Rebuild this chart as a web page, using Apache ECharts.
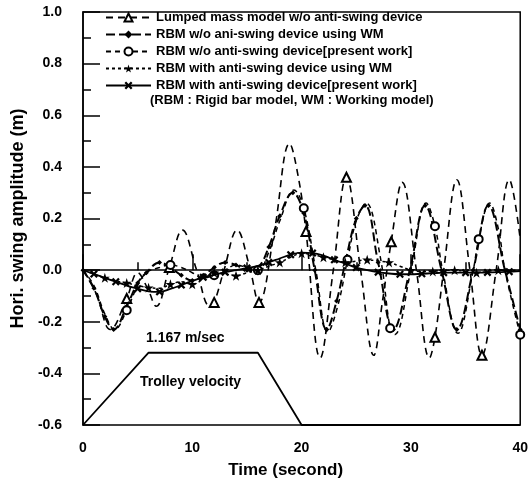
<!DOCTYPE html>
<html>
<head>
<meta charset="utf-8">
<script src="https://cdn.jsdelivr.net/npm/echarts@6/dist/echarts.min.js"></script>
<style>
html, body { margin: 0; padding: 0; background: #fff; }
#chart { width: 531px; height: 484px; }
</style>
</head>
<body>
<div id="chart"></div>
<script>
// tick labels
var xTicks = [0, 10, 20, 30, 40];

// Lumped mass model w/o anti-swing device
var lumpedT = [0, 1.2, 2.5, 4.0, 5.0, 5.9, 6.7, 7.9, 9.1, 10.4, 11.6, 12.0, 12.9, 14.1, 15.2, 16.1, 17.5, 18.9, 19.7, 20.4,
    21.7, 22.9, 24.1, 25.4, 26.6, 27.4, 28.2, 29.2, 30.5, 31.7, 32.2, 33.0, 34.2, 35.4, 36.5, 37.8, 39.0, 40];
var lumpedY = [0, -0.09, -0.23, -0.11, -0.01, -0.07, -0.14, 0.01, 0.155, 0.0, -0.14, -0.125, 0.0, 0.155, 0.02, -0.125, 0.15, 0.49, 0.36, 0.15,
    -0.34, 0.0, 0.36, 0.0, -0.33, -0.12, 0.11, 0.34, 0.0, -0.34, -0.26, 0.0, 0.35, 0.0, -0.33, 0.0, 0.35, 0.12];
var lumpedMarks = [4.0, 7.9, 12.0, 16.1, 20.4, 24.1, 28.2, 32.2, 36.5];

// RBM w/o anti-swing device using WM
var wmT = [0, 1, 2, 2.8, 4, 5, 5.8, 7, 8, 9, 10, 11, 12, 13, 14, 15, 16, 17, 18, 19.2, 20.2, 21.2, 22.3, 23.2, 24.1, 25.0, 25.8,
    27.0, 28.4, 29.9, 31.3, 32.8, 34.2, 35.7, 37.1, 38.6, 40];
var wmY = [0, -0.07, -0.18, -0.23, -0.14, -0.05, -0.01, 0.03, 0.01, -0.02, -0.04, -0.02, 0.01, 0.03, 0.02, 0.0, 0.01, 0.09, 0.21, 0.30, 0.22, 0.0, -0.23, -0.12, 0.05, 0.2, 0.25,
    0.03, -0.23, 0.0, 0.25, 0.0, -0.23, 0.0, 0.25, 0.0, -0.23];

// RBM w/o anti-swing device [present work]
var prT = [0, 1, 2, 2.9, 4, 5, 5.8, 7, 8, 9, 10, 11, 12, 13, 14, 15, 16, 17, 18, 19.3, 20.2, 21.3, 22.4, 23.3, 24.2, 25.0, 25.9,
    27.2, 28.1, 28.5, 30.0, 31.4, 32.2, 32.9, 34.3, 35.7, 36.2, 37.2, 38.0, 38.6, 40];
var prY = [0, -0.06, -0.17, -0.23, -0.155, -0.06, -0.01, 0.01, 0.02, 0.01, -0.01, -0.03, -0.02, 0.0, 0.02, 0.01, 0.0, 0.07, 0.19, 0.31, 0.24, 0.0, -0.24, -0.14, 0.04, 0.19, 0.26,
    0.05, -0.225, -0.25, 0.0, 0.26, 0.17, 0.0, -0.245, 0.0, 0.12, 0.26, 0.16, 0.0, -0.25];
var prMarks = [4, 8, 12, 16, 20.2, 24.2, 28.1, 32.2, 36.2, 40];

// anti-swing series, one value per second
var secT = [0, 1, 2, 3, 4, 5, 6, 7, 8, 9, 10, 11, 12, 13, 14, 15, 16, 17, 18, 19, 20,
    21, 22, 23, 24, 25, 26, 27, 28, 29, 30, 31, 32, 33, 34, 35, 36, 37, 38, 39, 40];
var wmAntiY = [0, -0.015, -0.03, -0.042, -0.05, -0.06, -0.068, -0.07, -0.055, -0.045, -0.055, -0.035, -0.01, -0.015, -0.022, -0.01, 0.0, 0.015, 0.03, 0.05, 0.065,
    0.06, 0.05, 0.04, 0.03, 0.035, 0.04, 0.035, 0.03, 0.015, 0.0, -0.005, -0.005, 0.0, 0.0, -0.005, -0.01, -0.005, 0.0, 0.0, 0.0];
var prAntiY = [0, -0.015, -0.03, -0.045, -0.06, -0.072, -0.082, -0.084, -0.073, -0.058, -0.042, -0.028, -0.018, -0.008, 0.0, 0.008, 0.016, 0.03, 0.045, 0.06, 0.068,
    0.066, 0.056, 0.04, 0.025, 0.01, 0.0, -0.008, -0.013, -0.016, -0.016, -0.014, -0.012, -0.01, -0.01, -0.01, -0.01, -0.009, -0.008, -0.006, -0.004];
var wmAntiMarks = [2, 4, 6, 8, 10, 12, 14, 16, 18, 20, 22, 24, 26, 28, 30, 32, 34, 36, 38];
var prAntiMarks = [1, 3, 5, 7, 9, 11, 13, 15, 17, 19, 21, 23, 25, 27, 29, 31, 33, 35, 37, 39];

// trolley velocity profile (drawn on the -0.6 baseline)
var trolleyT = [0, 6, 16, 20, 40];
var trolleyY = [-0.6, -0.32, -0.32, -0.6, -0.6];

var names = [
    'Lumped mass model w/o anti-swing device',
    'RBM w/o ani-swing device using WM',
    'RBM w/o anti-swing device[present work]',
    'RBM with anti-swing device using WM',
    'RBM with anti-swing device[present work]'
];

var FONT = '"Liberation Sans", Arial, sans-serif';
var STAR = 'path://M5,0 L6.2,3.6 L10,3.6 L6.9,5.9 L8.1,9.5 L5,7.3 L1.9,9.5 L3.1,5.9 L0,3.6 L3.8,3.6 Z';
var CROSS = 'path://M2,0 L5,3 L8,0 L10,2 L7,5 L10,8 L8,10 L5,7 L2,10 L0,8 L3,5 L0,2 Z';

function pairs(t, y) {
    var out = [];
    for (var i = 0; i < t.length; i++) {
        out.push([t[i], y[i]]);
    }
    return out;
}

function markSize(marks, size) {
    return function (v) {
        return marks.indexOf(v[0]) >= 0 ? size : 0;
    };
}

var chart = echarts.init(document.getElementById('chart'));

var option = {
    animation: false,
    textStyle: { fontFamily: FONT },
    grid: {
        left: 83, right: 8, top: 12, bottom: 59,
        show: true, borderColor: '#000', borderWidth: 1.5, backgroundColor: 'transparent'
    },
    legend: {
        data: names,
        orient: 'vertical',
        left: 105,
        top: 11,
        padding: 0,
        itemWidth: 45,
        itemHeight: 10,
        itemGap: 4,
        textStyle: { fontFamily: FONT, fontSize: 13, fontWeight: 'bold', color: '#000' }
    },
    graphic: [
        {
            type: 'text', left: 150, top: 94,
            style: { text: '(RBM : Rigid bar model, WM : Working model)', font: 'bold 13px ' + FONT, fill: '#000' }
        },
        {
            type: 'text', left: 146, top: 331,
            style: { text: '1.167 m/sec', font: 'bold 14px ' + FONT, fill: '#000' }
        },
        {
            type: 'text', left: 140, top: 375,
            style: { text: 'Trolley velocity', font: 'bold 14px ' + FONT, fill: '#000' }
        }
    ],
    xAxis: {
        type: 'value',
        min: xTicks[0],
        max: xTicks[xTicks.length - 1],
        interval: 10,
        name: 'Time (second)',
        nameLocation: 'middle',
        nameGap: 37,
        nameTextStyle: { fontFamily: FONT, fontSize: 17, fontWeight: 'bold', color: '#000', padding: [0, 32, 0, 0] },
        axisLine: { lineStyle: { color: '#000', width: 1.5 } },
        axisTick: { inside: true, length: 16, lineStyle: { color: '#000', width: 1.5 } },
        minorTick: { show: true, splitNumber: 2, length: 8, lineStyle: { color: '#000', width: 1.5 } },
        splitLine: { show: false },
        axisLabel: { margin: 16, fontFamily: FONT, fontSize: 14, fontWeight: 'bold', color: '#000' }
    },
    yAxis: {
        type: 'value',
        min: -0.6,
        max: 1.0,
        interval: 0.2,
        name: 'Hori. swing amplitude (m)',
        nameLocation: 'middle',
        nameGap: 51,
        nameTextStyle: { fontFamily: FONT, fontSize: 18, fontWeight: 'bold', color: '#000' },
        axisLine: { lineStyle: { color: '#000', width: 1.5 } },
        axisTick: { inside: true, length: 17, lineStyle: { color: '#000', width: 1.5 } },
        minorTick: { show: true, splitNumber: 2, length: 8, lineStyle: { color: '#000', width: 1.5 } },
        splitLine: { show: false },
        axisLabel: {
            margin: 21, fontFamily: FONT, fontSize: 14, fontWeight: 'bold', color: '#000',
            formatter: function (v) {
                return Math.abs(v) < 1e-9 ? '0.0' : v.toFixed(1);
            }
        }
    },
    series: [
        {
            name: names[0], type: 'line', data: pairs(lumpedT, lumpedY), smooth: 0.4,
            symbol: 'emptyTriangle', symbolSize: markSize(lumpedMarks, 9),
            lineStyle: { color: '#000', width: 1.6, type: [7, 5] },
            itemStyle: { color: '#000', borderWidth: 1.3 }, z: 3
        },
        {
            name: names[1], type: 'line', data: pairs(wmT, wmY), smooth: 0.4,
            symbol: 'diamond', symbolSize: 5,
            lineStyle: { color: '#000', width: 2, type: [9, 4] },
            itemStyle: { color: '#000' }, z: 4
        },
        {
            name: names[2], type: 'line', data: pairs(prT, prY), smooth: 0.4,
            symbol: 'emptyCircle', symbolSize: markSize(prMarks, 8),
            lineStyle: { color: '#000', width: 1.5, type: [5, 4] },
            itemStyle: { color: '#000', borderWidth: 1.3 }, z: 5
        },
        {
            name: names[3], type: 'line', data: pairs(secT, wmAntiY), smooth: 0.4,
            symbol: STAR, symbolSize: markSize(wmAntiMarks, 10),
            lineStyle: { color: '#000', width: 1.5, type: [3, 3] },
            itemStyle: { color: '#000' }, z: 6
        },
        {
            name: names[4], type: 'line', data: pairs(secT, prAntiY), smooth: 0.4,
            symbol: CROSS, symbolSize: markSize(prAntiMarks, 8),
            lineStyle: { color: '#000', width: 1.8 },
            itemStyle: { color: '#000' }, z: 7
        },
        {
            name: 'Trolley velocity', type: 'line', data: pairs(trolleyT, trolleyY),
            symbol: 'none', lineStyle: { color: '#000', width: 1.8 }, z: 2
        }
    ]
};

chart.setOption(option);
</script>
</body>
</html>
